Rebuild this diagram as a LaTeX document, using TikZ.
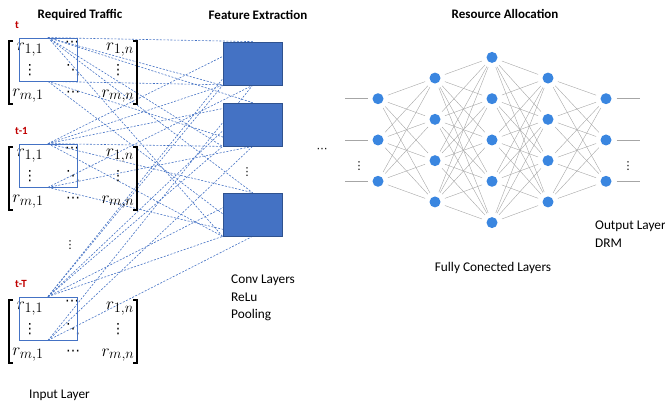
\documentclass[tikz,border=0pt]{standalone}
\usepackage{fontspec}
\setmainfont{Carlito}
\newfontfamily\symf{DejaVu Sans}
\usetikzlibrary{backgrounds}
\definecolor{boxblue}{RGB}{68,114,196}
\definecolor{boxedge}{RGB}{47,82,143}
\definecolor{nodeblue}{RGB}{58,134,224}
\definecolor{tred}{RGB}{192,0,0}
\begin{document}
\begin{tikzpicture}[x=1pt,y=-1pt,
    heading/.style={font=\fontsize{13}{15}\selectfont\bfseries},
    note/.style={font=\fontsize{13.3}{17.5}\selectfont, align=left, inner sep=0},
    tlabel/.style={font=\fontsize{11}{13}\selectfont\bfseries, text=tred, anchor=west, inner sep=0},
    entry/.style={font=\fontsize{19}{22}\selectfont, inner sep=0},
    dotentry/.style={font=\symf\fontsize{14}{14}\selectfont, inner sep=0},
    dots/.style={font=\symf\fontsize{11}{11}\selectfont, inner sep=0},
    brk/.style={line width=1.4pt},
    win/.style={draw=boxblue, line width=0.8pt, minimum width=58pt, minimum height=43pt, inner sep=0},
    feat/.style={draw=boxedge, fill=boxblue, line width=0.8pt, minimum width=59pt, minimum height=43pt, inner sep=0},
    link/.style={draw=boxblue, dash pattern=on 2pt off 1.5pt, line width=0.6pt},
    neuron/.style={circle, fill=nodeblue, minimum size=11pt, inner sep=0, outer sep=5pt},
    wire/.style={draw=black!35, line width=0.4pt}]
    \useasboundingbox (0,0) rectangle (665,406);
    % 标题
    \node[heading] (h1) at (80,15) {Required Traffic};
    \node[heading] (h2) at (258,15) {Feature Extraction};
    \node[heading] (h3) at (505,14) {Resource Allocation};
    % 输入矩阵
    \foreach \m/\dy/\lab in {1/0/t, 2/106/t-1, 3/259/t-T} {
        \node[tlabel] (t\m) at (15,25+\dy) {\lab};
        \node[entry] (r\m-11) at (30,50+\dy) {$r_{1,1}$};
        \node[dotentry] (r\m-12) at (72,44+\dy) {⋯};
        \node[entry] (r\m-13) at (120,50+\dy) {$r_{1,n}$};
        \node[dotentry] (r\m-21) at (30,70+\dy) {⋮};
        \node[dotentry] (r\m-22) at (73,70+\dy) {⋱};
        \node[dotentry] (r\m-23) at (118,70+\dy) {⋮};
        \node[entry] (r\m-31) at (28,96+\dy) {$r_{m,1}$};
        \node[dotentry] (r\m-32) at (73,94+\dy) {⋯};
        \node[entry] (r\m-33) at (118,96+\dy) {$r_{m,n}$};
        \draw[brk] (13,41+\dy) -- (9,41+\dy) -- (9,104+\dy) -- (13,104+\dy);   % 左括号
        \draw[brk] (133,41+\dy) -- (137,41+\dy) -- (137,104+\dy) -- (133,104+\dy); % 右括号
        \node[win] (w\m) at (48,59.5+\dy) {};   % 卷积窗口
    }
    \node[dots] (md) at (70,245) {⋮};
    \node[note, anchor=west] (inp) at (29,395) {Input Layer};
    % 特征提取
    \node[feat] (f1) at (252.5,63.5) {};
    \node[feat] (f2) at (252.5,124.5) {};
    \node[feat] (f3) at (252.5,214.5) {};
    \node[dots] (fd) at (247,172) {⋮};
    \node[note, anchor=north west] (conv) at (231,275) {Conv Layers\\ReLu\\Pooling};
    \begin{scope}[on background layer]
        \foreach \i in {1,2,3}
            \foreach \j in {1,2,3} {
                \draw[link] (w\i.north) -- (f\j.north);
                \draw[link] (w\i.north) -- (f\j.south west);
                \draw[link] (w\i.south) -- (f\j.south);
            }
    \end{scope}
    \node[dots] (ell) at (322,150) {⋯};
    % 全连接层
    \foreach \l/\x/\k in {1/378/3, 2/435/4, 3/492/5, 4/548/4, 5/606/3}
        \foreach \i in {1,...,\k}
            \node[neuron] (n\l-\i) at (\x,{140+(\i-(\k+1)/2)*41.3}) {};
    \foreach \l/\k/\n in {1/3/4, 2/4/5, 3/5/4, 4/4/3} {
        \pgfmathtruncatemacro\nxt{\l+1}
        \foreach \i in {1,...,\k}
            \foreach \j in {1,...,\n}
                \draw[wire] (n\l-\i) -- (n\nxt-\j);
    }
    \foreach \i in {1,2,3} {
        \draw[wire] (n1-\i.west) -- ++(-23,0);
        \draw[wire] (n5-\i.east) -- ++(23,0);
    }
    \node[dots] (nd1) at (359,166) {⋮};
    \node[dots] (nd2) at (628,166) {⋮};
    \node[note] (fc) at (493,268) {Fully Conected Layers};
    \node[note, anchor=north west] (outl) at (595,221) {Output Layer\\DRM};
\end{tikzpicture}
\end{document}
